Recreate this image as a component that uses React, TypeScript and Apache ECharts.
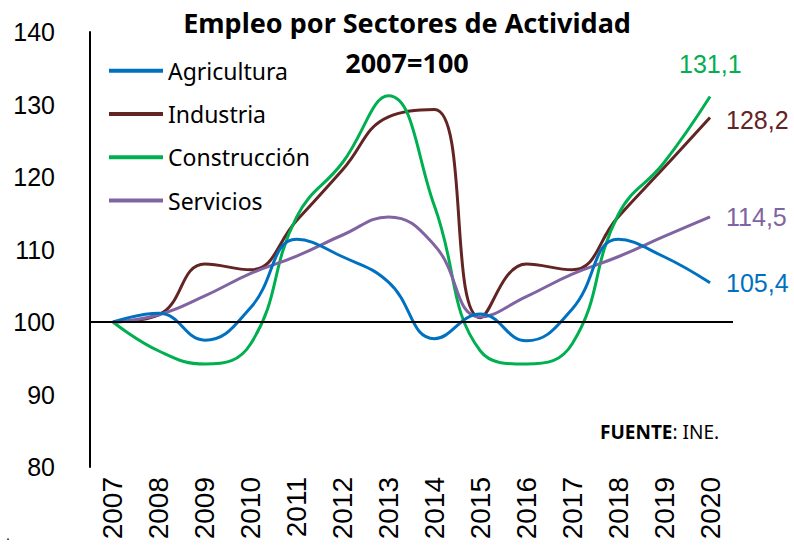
import React, { useEffect, useRef } from "react";
import * as echarts from "echarts";

const years = ["2007","2008","2009","2010","2011","2012","2013","2014","2015","2016","2017","2018","2019","2020"];
const agricultura = [100, 101.2, 97.5, 102, 111.4, 109, 105.5, 97.7, 101.1, 97.4, 101.8, 111.4, 109, 105.4];
const industria = [100, 101, 108, 107.2, 114, 121, 128.3, 129.3, 100.6, 108, 107.2, 114.5, 121.3, 128.2];
const construccion = [100, 96, 94.2, 97, 114.5, 122, 131.2, 116, 96, 94.2, 97, 114.8, 122, 131.1];
const servicios = [100, 101, 103.6, 106.7, 109.1, 112, 114.5, 110.6, 100.7, 103.5, 106.6, 109, 111.8, 114.5];

const seriesNames = ["Agricultura", "Industria", "Construcción", "Servicios"];
const seriesColors = ["#0070C0", "#632523", "#00B050", "#8064A2"];
const seriesData = [agricultura, industria, construccion, servicios];
const endOffsets: [number, number][] = [[8, 0], [8, 2], [-39, -33], [8, 0]];

export default function App() {
  const ref = useRef<HTMLDivElement>(null);
  useEffect(() => {
    const chart = echarts.init(ref.current!, null, { renderer: "svg" });
    const fmt = (v: number) => v.toFixed(1).replace(".", ",");
    chart.setOption({
      animation: false,
      backgroundColor: "#fff",
      title: [
        { text: "Empleo por Sectores de Actividad", left: 402, top: 4, textAlign: "center",
          textStyle: { fontFamily: "Noto Sans", fontWeight: "bold", fontSize: 27, color: "#000" } },
        { text: "2007=100", left: 402, top: 44, textAlign: "center",
          textStyle: { fontFamily: "Noto Sans", fontWeight: "bold", fontSize: 27, color: "#000" } },
      ],
      legend: {
        orient: "vertical", left: 104, top: 54, itemWidth: 54, itemHeight: 4, itemGap: 20,
        icon: "rect",
        data: seriesNames,
        textStyle: { fontFamily: "Noto Sans", fontSize: 23, color: "#000", lineHeight: 23.3 },
      },
      grid: { left: 90, right: 61, top: 32, bottom: 78 },
      xAxis: {
        type: "category", data: years, boundaryGap: true,
        axisLine: { show: false }, axisTick: { show: false },
        axisLabel: { rotate: 90, fontSize: 28, fontFamily: "Liberation Sans", color: "#000", margin: 10, interval: 0 },
      },
      yAxis: {
        type: "value", min: 80, max: 140, interval: 10,
        splitLine: { show: false },
        axisLine: { show: true, lineStyle: { color: "#000", width: 2 } },
        axisTick: { show: false },
        axisLabel: { fontSize: 25, fontFamily: "Liberation Sans", color: "#000", margin: 35 },
      },
      graphic: [
        { type: "text", left: 600, top: 422, style: {
          text: "{b|FUENTE}{n|: INE.}",
          rich: {
            b: { fontFamily: "Noto Sans", fontWeight: "bold", fontSize: 19, fill: "#000" },
            n: { fontFamily: "Noto Sans", fontSize: 19, fill: "#000" },
          } } },
        { type: "text", left: 6, top: 528, style: { text: ".", fontSize: 14, fill: "#000" } },
      ],
      series: seriesData.map((d, i) => ({
        name: seriesNames[i], type: "line", data: d, smooth: 0.45, symbol: "none",
        color: seriesColors[i],
        itemStyle: { color: seriesColors[i] },
        lineStyle: { color: seriesColors[i], width: 3 },
        endLabel: {
          show: true, offset: endOffsets[i], color: seriesColors[i], fontSize: 25,
          fontFamily: "Liberation Sans", formatter: (p: any) => fmt(p.value),
        },
        markLine: i === 0 ? {
          silent: true, symbol: "none", label: { show: false },
          lineStyle: { color: "#000", width: 2, type: "solid" },
          data: [{ yAxis: 100 }],
        } : undefined,
        z: i === 0 ? 3 : 2,
      })),
    });
    return () => chart.dispose();
  }, []);
  return <div ref={ref} style={{ position: "fixed", left: 0, top: 0, width: 794, height: 545 }} />;
}
